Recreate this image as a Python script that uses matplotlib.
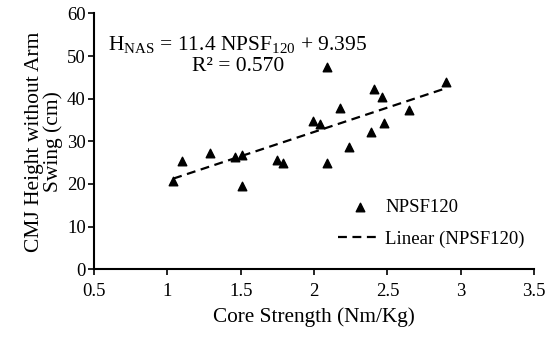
import matplotlib
matplotlib.use("Agg")
import matplotlib.pyplot as plt
import numpy as np

plt.rcParams['font.family'] = ['Liberation Serif', 'DejaVu Serif']
plt.rcParams['mathtext.fontset'] = 'custom'
plt.rcParams['mathtext.rm'] = 'Liberation Serif'

# core strength (Nm/Kg) vs CMJ height (cm)
core_strength = [1.04, 1.10, 1.29, 1.46, 1.51, 1.51, 1.75, 1.79, 1.99, 2.04,
                 2.09, 2.09, 2.18, 2.24, 2.39, 2.41, 2.46, 2.48, 2.65, 2.90]
cmj_height = [20.7, 25.5, 27.3, 26.4, 26.8, 19.5, 25.6, 25.0, 34.8, 34.0,
              47.5, 25.0, 37.7, 28.6, 32.3, 42.3, 40.5, 34.4, 37.3, 44.0]
slope = 11.4
intercept = 9.395
r2 = 0.570

x = np.array(core_strength)
y = np.array(cmj_height)

fig = plt.figure(figsize=(5.5, 3.43), dpi=100)
ax = fig.add_axes([0.171, 0.215, 0.80, 0.746])

ax.scatter(x, y, marker='^', s=38, color='black', label='NPSF120', zorder=3)
xl = np.array([x.min(), x.max()])
ax.plot(xl, slope * xl + intercept, color='black', linestyle=(0, (4, 2.5)),
        linewidth=1.6, label='Linear (NPSF120)')

ax.set_xlim(0.5, 3.5)
ax.set_ylim(0, 60)
ax.set_xticks([0.5, 1, 1.5, 2, 2.5, 3, 3.5])
ax.set_xticklabels(['0.5', '1', '1.5', '2', '2.5', '3', '3.5'])
ax.set_yticks(range(0, 61, 10))

for s in ['top', 'right']:
    ax.spines[s].set_visible(False)
for s in ['left', 'bottom']:
    ax.spines[s].set_linewidth(1.5)
ax.tick_params(axis='y', direction='out', length=4, width=1.2, labelsize=13.5, pad=2)
ax.tick_params(axis='x', direction='out', length=4, width=1.2, labelsize=13.5, pad=6)

ax.set_xlabel('Core Strength (Nm/Kg)', fontsize=15.3, labelpad=5)
ax.set_ylabel('CMJ Height without Arm\nSwing (cm)', fontsize=15.5, labelpad=3,
              linespacing=0.95)

ax.text(0.595, 52.6, r'$\mathregular{H_{NAS}}$ = 11.4 NPSF$\mathregular{_{120}}$ + 9.395',
        fontsize=15.5, va='center', ha='left')
ax.text(1.484, 47.6, 'R² = 0.570', fontsize=15.5, va='center', ha='center')

ax.legend(loc='upper left', bbox_to_anchor=(0.555, 0.275), frameon=False,
          fontsize=13.5, handlelength=2.3, handletextpad=0.2, labelspacing=0.78,
          borderpad=0, borderaxespad=0)

fig.savefig('out.png', dpi=100)
